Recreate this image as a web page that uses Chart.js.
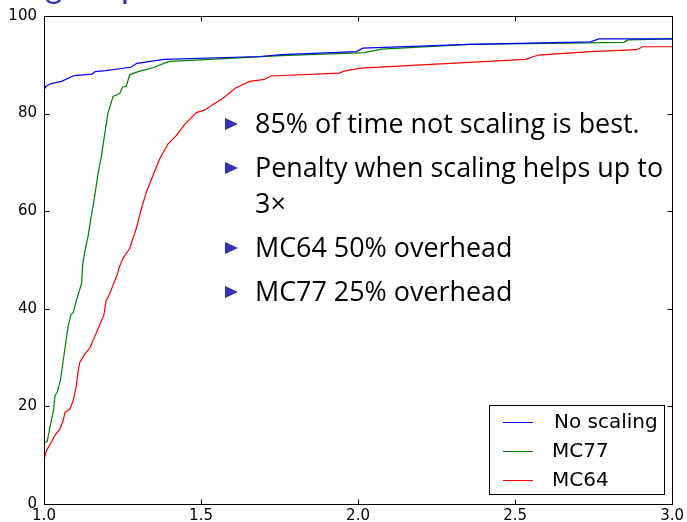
<!DOCTYPE html>
<html>
<head>
<meta charset="utf-8">
<script src="https://cdn.jsdelivr.net/npm/chart.js@4.4.1/dist/chart.umd.min.js"></script>
<style>
  html, body { margin: 0; padding: 0; background: #fff; }
</style>
</head>
<body>
<canvas id="myChart" width="687" height="522"></canvas>
<script>
// performance profile data
var noScalingX = [1.0, 1.005, 1.02, 1.056, 1.096, 1.153, 1.163, 1.196, 1.276, 1.296, 1.382, 1.688, 1.755, 1.995, 2.015, 2.354, 2.74, 2.767, 3.0];
var noScalingY = [84.7, 85.5, 86.1, 86.6, 87.8, 88.1, 88.6, 88.8, 89.5, 90.3, 91.1, 91.7, 92.1, 92.7, 93.4, 94.2, 94.7, 95.3, 95.3];

var mc77X = [1.0, 1.01, 1.019, 1.03, 1.035, 1.042, 1.053, 1.061, 1.07, 1.077, 1.086, 1.093, 1.102, 1.109, 1.12, 1.123, 1.13, 1.141, 1.151, 1.162, 1.172, 1.183, 1.194, 1.204, 1.22, 1.241, 1.25, 1.262, 1.273, 1.305, 1.347, 1.39, 1.402, 1.559, 1.755, 2.02, 2.075, 2.354, 2.847, 2.86, 3.0];
var mc77Y = [12.7, 12.7, 15.8, 19.1, 22.2, 22.9, 25.6, 29.3, 33.4, 36.5, 38.8, 39.2, 41.5, 42.9, 45.3, 49.0, 51.7, 55.1, 59.2, 63.3, 67.7, 71.4, 76.1, 80.2, 83.5, 84.1, 85.4, 85.6, 88.0, 88.7, 89.4, 90.5, 90.7, 91.2, 91.9, 92.5, 93.2, 94.2, 94.6, 95.1, 95.3];

var mc64X = [1.0, 1.008, 1.024, 1.035, 1.051, 1.061, 1.067, 1.083, 1.093, 1.102, 1.109, 1.114, 1.13, 1.146, 1.162, 1.178, 1.191, 1.197, 1.21, 1.22, 1.231, 1.241, 1.252, 1.273, 1.294, 1.31, 1.326, 1.347, 1.368, 1.395, 1.421, 1.448, 1.485, 1.511, 1.542, 1.569, 1.609, 1.655, 1.702, 1.722, 1.941, 1.955, 2.008, 2.534, 2.574, 2.74, 2.887, 2.907, 3.0];
var mc64Y = [9.0, 11.0, 12.7, 14.1, 15.4, 17.1, 18.8, 19.5, 21.2, 23.9, 27.3, 29.0, 30.7, 32.0, 34.4, 36.8, 38.8, 41.5, 43.2, 44.9, 46.6, 48.7, 50.4, 52.4, 56.5, 60.5, 63.9, 67.3, 70.7, 73.8, 75.5, 77.8, 80.2, 80.7, 82.0, 83.1, 85.2, 86.6, 87.0, 87.7, 88.3, 88.7, 89.3, 91.1, 92.0, 92.7, 93.1, 93.7, 93.7];

var seriesLabels = ["No scaling", "MC77", "MC64"];
var xTickValues = [1.0, 1.5, 2.0, 2.5, 3.0];
var yTickValues = [0, 20, 40, 60, 80, 100];

var bulletLines = [
    ["85% of time not scaling is best."],
    ["Penalty when scaling helps up to", "3\u00d7"],
    ["MC64 50% overhead"],
    ["MC77 25% overhead"]
];

function pts(xs, ys) {
    return xs.map(function (x, i) { return { x: x, y: ys[i] }; });
}

var tickFont = { family: "DejaVu Sans", size: 15 };
var structBlue = 'rgb(51,51,179)';

// frame, inward ticks, legend box, bullet text
var slideBits = {
    id: 'slideBits',
    afterDatasetsDraw: function (chart) {
        var ctx = chart.ctx, a = chart.chartArea;
        var xs = chart.scales.x, ys = chart.scales.y;
        var L = Math.round(a.left) + 0.5, R = Math.round(a.right) + 0.5;
        var T = Math.round(a.top) + 0.5, B = Math.round(a.bottom) + 0.5;
        ctx.save();
        ctx.strokeStyle = '#000';
        ctx.lineWidth = 1;
        ctx.strokeRect(L, T, R - L, B - T);
        ctx.beginPath();
        xTickValues.forEach(function (v) {
            var px = Math.round(xs.getPixelForValue(v)) + 0.5;
            ctx.moveTo(px, B); ctx.lineTo(px, B - 5);
            ctx.moveTo(px, T); ctx.lineTo(px, T + 5);
        });
        yTickValues.forEach(function (v) {
            var py = Math.round(ys.getPixelForValue(v)) + 0.5;
            ctx.moveTo(L, py); ctx.lineTo(L + 5, py);
            ctx.moveTo(R, py); ctx.lineTo(R - 5, py);
        });
        ctx.stroke();

        // legend
        var bx = 489.5, by = 405.5, bw = 175, bh = 89;
        ctx.fillStyle = '#fff';
        ctx.fillRect(bx, by, bw, bh);
        ctx.strokeRect(bx, by, bw, bh);
        ctx.font = '20px "DejaVu Sans"';
        ctx.textBaseline = 'middle';
        chart.data.datasets.forEach(function (ds, i) {
            var ly = 422 + i * 29;
            ctx.strokeStyle = ds.borderColor;
            ctx.beginPath();
            ctx.moveTo(503, ly + 0.5); ctx.lineTo(533, ly + 0.5);
            ctx.stroke();
            ctx.fillStyle = '#000';
            ctx.fillText(ds.label, i === 0 ? 554 : 552, ly + 1);
        });

        // bullets, font sized so the first line spans like the slide
        ctx.textBaseline = 'alphabetic';
        ctx.font = '25px "Open Sans"';
        var fs = 25 * 385 / ctx.measureText(bulletLines[0][0]).width;
        ctx.font = fs.toFixed(1) + 'px "Open Sans"';
        var y0 = 133;
        bulletLines.forEach(function (lines, i) {
            var base = y0 + [0, 44, 124, 168][i];
            ctx.fillStyle = structBlue;
            ctx.beginPath();
            ctx.moveTo(225, base - 15);
            ctx.lineTo(238, base - 9);
            ctx.lineTo(225, base - 3);
            ctx.closePath();
            ctx.fill();
            ctx.fillStyle = '#000';
            lines.forEach(function (t, j) {
                ctx.fillText(t, 255, base + j * 36);
            });
        });

        // bottom of the slide title, cut off by the page
        ctx.fillStyle = structBlue;
        ctx.font = '34px Lato';
        ctx.fillText('g', 45, -2);
        ctx.fillText('p', 121, -2);
        ctx.restore();
    }
};

var ctx = document.getElementById('myChart').getContext('2d');
var chart = new Chart(ctx, {
    type: 'scatter',
    data: {
        datasets: [
            { label: seriesLabels[0], data: pts(noScalingX, noScalingY), borderColor: '#0000ff' },
            { label: seriesLabels[1], data: pts(mc77X, mc77Y), borderColor: '#008000' },
            { label: seriesLabels[2], data: pts(mc64X, mc64Y), borderColor: '#ff0000' }
        ]
    },
    options: {
        responsive: false,
        animation: false,
        showLine: true,
        elements: {
            line: { borderWidth: 1.2, tension: 0, fill: false },
            point: { radius: 0, hoverRadius: 0 }
        },
        layout: { padding: { top: 13, right: 13, left: 0, bottom: 0 }, autoPadding: false },
        plugins: { legend: { display: false }, tooltip: { enabled: false } },
        scales: {
            x: {
                type: 'linear', min: 1, max: 3,
                afterBuildTicks: function (s) { s.ticks = xTickValues.map(function (v) { return { value: v }; }); },
                afterFit: function (s) { s.height = 18; },
                grid: { display: false, drawTicks: false },
                border: { display: false },
                ticks: {
                    font: tickFont, color: '#000', padding: 3, autoSkip: false, maxRotation: 0,
                    callback: function (v) { return v.toFixed(1); }
                }
            },
            y: {
                type: 'linear', min: 0, max: 100,
                afterBuildTicks: function (s) { s.ticks = yTickValues.map(function (v) { return { value: v }; }); },
                afterFit: function (s) { s.width = 44; },
                grid: { display: false, drawTicks: false },
                border: { display: false },
                ticks: { font: tickFont, color: '#000', padding: 7 }
            }
        }
    },
    plugins: [slideBits]
});
</script>
</body>
</html>
